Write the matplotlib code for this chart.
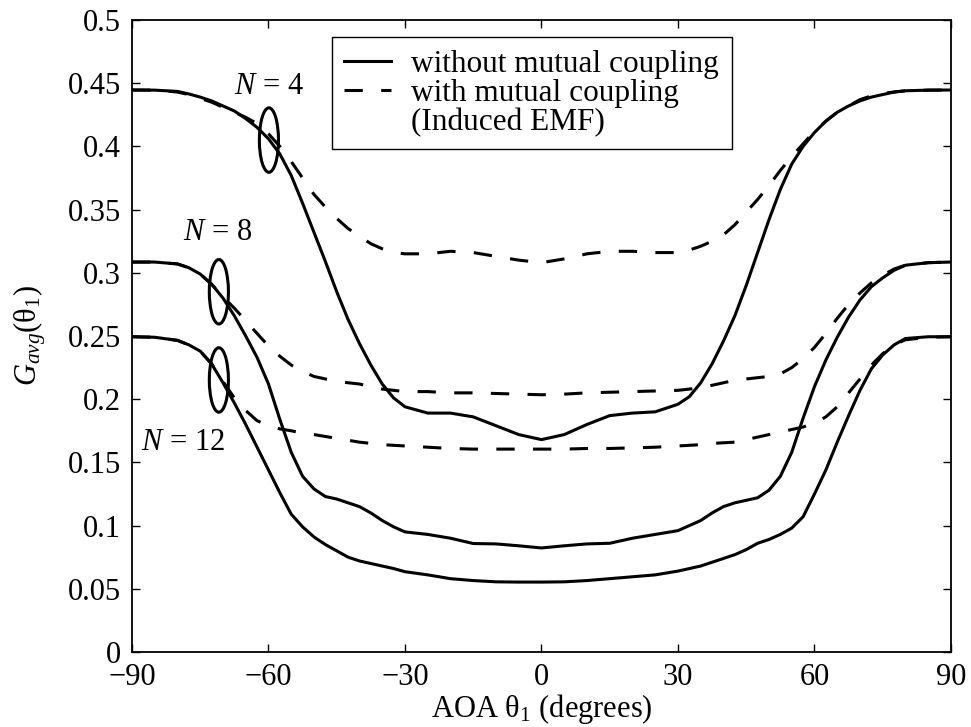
import numpy as np
import matplotlib
matplotlib.use("Agg")
import matplotlib.pyplot as plt
from matplotlib.patches import Ellipse
from matplotlib.lines import Line2D
from matplotlib.ticker import FormatStrFormatter

plt.rcParams['font.family'] = ['Liberation Serif', 'DejaVu Serif']
plt.rcParams['mathtext.fontset'] = 'custom'
plt.rcParams['mathtext.rm'] = 'Liberation Serif'
plt.rcParams['mathtext.it'] = 'Liberation Serif:italic'
plt.rcParams['mathtext.bf'] = 'Liberation Serif:bold'
plt.rcParams['font.size'] = 22

# angle of arrival (degrees)
theta = [-90, -85, -80, -77.5, -75, -72.5, -70, -67.5, -65, -62.5,
         -60, -57.5, -55, -52.5, -50, -47.5, -45, -42.5, -40, -37.5,
         -35, -32.5, -30, -25, -20, -15, -10, -5, 0,
         5, 10, 15, 20, 25,
         30, 32.5, 35, 37.5, 40, 42.5, 45, 47.5, 50, 52.5,
         55, 57.5, 60, 62.5, 65, 67.5, 70, 72.5, 75, 77.5, 80,
         85, 90]

# average gain, N = 4
g4_nomc = [.4446, .4445, .4435, .4415, .439, .436, .432, .428, .422, .415,
           .406, .394, .377, .355, .332, .309, .285, .263, .244, .227,
           .212, .201, .194, .189, .189, .186, .179, .172, .168,
           .172, .180, .187, .189, .190,
           .196, .202, .213, .228, .246, .266, .290, .316, .342, .366,
           .386, .400, .411, .420, .427, .432, .436, .439, .441, .443, .444,
           .4445, .4446]
g4_mc = [.4446, .4445, .443, .441, .438, .435, .431, .427, .423, .418,
         .410, .400, .388, .375, .362, .352, .343, .335, .329, .323,
         .319, .316, .315, .315, .317, .316, .313, .310, .308,
         .311, .315, .317, .317, .316,
         .316, .318, .321, .325, .330, .338, .348, .358, .369, .381,
         .392, .402, .412, .420, .427, .432, .437, .440, .442, .443, .444,
         .4445, .4446]

# average gain, N = 8
g8_nomc = [.3085, .3085, .307, .304, .299, .291, .280, .266, .250, .233,
           .212, .184, .158, .139, .129, .123, .121, .118, .115, .110,
           .104, .099, .095, .093, .090, .0858, .0855, .084, .0823,
           .084, .0855, .086, .090, .093,
           .096, .100, .104, .110, .115, .118, .120, .122, .128, .139,
           .158, .185, .210, .231, .249, .265, .2785, .289, .296, .302, .306,
           .308, .3085]
g8_mc = [.3085, .3085, .307, .304, .299, .291, .281, .272, .262, .252,
         .242, .234, .227, .222, .218, .216, .214, .213, .212, .210,
         .208, .207, .206, .206, .205, .205, .2045, .204, .2035,
         .204, .205, .2055, .206, .2065,
         .207, .208, .209, .211, .213, .215, .216, .217, .218, .220,
         .225, .232, .241, .252, .264, .275, .284, .292, .298, .303, .306,
         .308, .3085]

# average gain, N = 12
g12_nomc = [.2494, .249, .2465, .243, .238, .228, .213, .197, .180, .162,
            .144, .126, .109, .099, .091, .085, .080, .075, .072, .070,
            .068, .066, .0635, .061, .058, .0565, .0555, .0553, .0553,
            .0555, .0565, .058, .0595, .061,
            .064, .066, .068, .071, .074, .077, .081, .086, .089, .093,
            .098, .107, .125, .144, .166, .187, .207, .224, .235, .243, .248,
            .2494, .2494]
g12_mc = [.2494, .249, .2465, .243, .238, .228, .214, .201, .191, .183,
          .179, .1765, .175, .173, .172, .1705, .169, .1675, .166, .165,
          .164, .1635, .163, .162, .161, .1605, .1605, .1605, .1605,
          .1605, .161, .161, .1615, .162,
          .163, .1635, .164, .165, .1655, .166, .168, .170, .172, .174,
          .176, .178, .181, .186, .194, .205, .216, .227, .236, .243, .247,
          .249, .2494]

fig = plt.figure(figsize=(9.71, 7.27), dpi=100)
ax = fig.add_axes([0.1359, 0.1032, 0.8435, 0.8693])

lw = 2.2
for g in (g4_nomc, g8_nomc, g12_nomc):
    ax.plot(theta, g, color='k', lw=lw, solid_capstyle='butt')
for g in (g4_mc, g8_mc, g12_mc):
    ax.plot(theta, g, color='k', lw=lw, dashes=(6, 6))

# group markers for each array size
for (cx, cy) in [(-59.9, 0.405), (-70.9, 0.285), (-70.9, 0.2152)]:
    ax.add_patch(Ellipse((cx, cy), 4.2, 0.051, fill=False, ec='k', lw=lw))
ax.text(-59.9, 0.447, '$N$ = 4', ha='center', va='center')
ax.text(-71.3, 0.332, '$N$ = 8', ha='center', va='center')
ax.text(-78.7, 0.166, '$N$ = 12', ha='center', va='center')

ax.set_xlim(-90, 90)
ax.set_ylim(0, 0.5)
ax.set_xticks(np.arange(-90, 91, 30))
ax.set_yticks(np.arange(0, 0.501, 0.05))
ax.yaxis.set_major_formatter(FormatStrFormatter('%g'))
ax.tick_params(direction='in', top=True, right=True, length=5.5, width=1)
ax.tick_params(axis='x', pad=8)
ax.tick_params(axis='y', pad=8)
for sp in ax.spines.values():
    sp.set_linewidth(1.3)

ax.set_xlabel(r'AOA $\mathrm{\theta}_1$ (degrees)', labelpad=0)
ax.set_ylabel(r'$G_{avg}(\mathrm{\theta}_1)$', labelpad=14)

handles = [Line2D([], [], color='k', lw=lw),
           Line2D([], [], color='k', lw=lw, dashes=(6, 6)),
           Line2D([], [], linestyle='none')]
labels = ['without mutual coupling', 'with mutual coupling', '(Induced EMF)']
leg = ax.legend(handles, labels, loc='upper left', bbox_to_anchor=(0.244, 0.973),
                borderaxespad=0, fancybox=False, framealpha=1, edgecolor='k',
                handlelength=1.5, handletextpad=0.65, labelspacing=0.0,
                borderpad=0.4, fontsize=22.5)
leg.get_frame().set_linewidth(1.0)

fig.savefig('out.png', dpi=100)
